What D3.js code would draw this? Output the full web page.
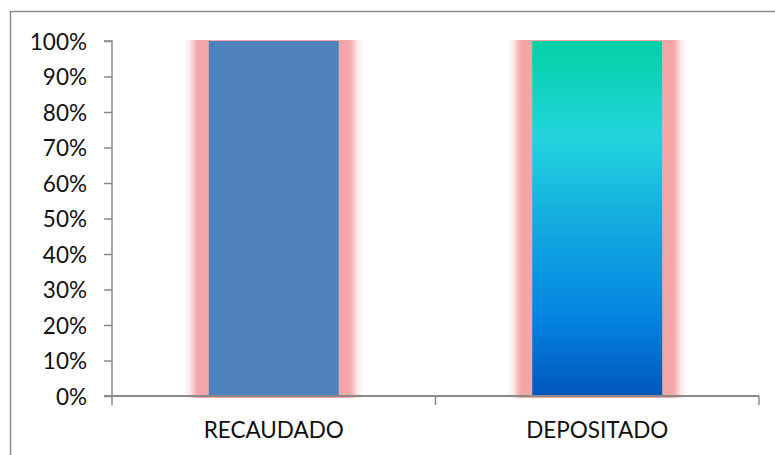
<!DOCTYPE html>
<html>
<head>
<meta charset="utf-8">
<script src="https://cdn.jsdelivr.net/npm/d3@7/dist/d3.min.js"></script>
<style>
  html, body { margin: 0; padding: 0; background: #fff; }
  svg { display: block; }
  text { font-family: Lato, "Open Sans", sans-serif; fill: #111; }
</style>
</head>
<body>
<svg id="chart" width="775" height="455"></svg>
<script>
// Chart data
const categories = ["RECAUDADO", "DEPOSITADO"];
const shareValues = [1.0, 1.0];
const yTicks = [0, 0.1, 0.2, 0.3, 0.4, 0.5, 0.6, 0.7, 0.8, 0.9, 1.0];

const svg = d3.select("#chart");
const W = 775, H = 455;
const plot = { left: 112, right: 759, top: 41, bottom: 396 };

// Outer frame
svg.append("rect")
  .attr("x", 10.5).attr("y", 11.5)
  .attr("width", W + 20).attr("height", H + 20)
  .attr("fill", "none").attr("stroke", "#8a8a8a").attr("stroke-width", 1.5);

const x = d3.scaleBand().domain(categories).range([plot.left, plot.right]).padding(0);
const y = d3.scaleLinear().domain([0, 1]).range([plot.bottom, plot.top]);
const barW = x.bandwidth() * 0.402;

const defs = svg.append("defs");
const glowPink = "#f4a6a6";

// Side glow gradients
function glowGradient(id, x1, x2) {
  const g = defs.append("linearGradient").attr("id", id).attr("x1", x1).attr("x2", x2).attr("y1", "0").attr("y2", "0");
  [["0", 0], ["0.25", 0.25], ["0.5", 0.9], ["0.6", 1], ["1", 1]]
    .forEach(([o, a]) => g.append("stop").attr("offset", o).attr("stop-color", glowPink).attr("stop-opacity", a));
}
glowGradient("glowL", "0", "1");
glowGradient("glowR", "1", "0");

// Vertical ocean gradient for the second bar
const ocean = defs.append("linearGradient").attr("id", "ocean").attr("x1", "0").attr("x2", "0").attr("y1", "0").attr("y2", "1");
[["0", "#03d1a4"], ["0.27", "#22d4de"], ["0.5", "#14addf"], ["0.78", "#0384e2"], ["1", "#0157bb"]]
  .forEach(([o, c]) => ocean.append("stop").attr("offset", o).attr("stop-color", c));

const fills = ["#4f81bd", "url(#ocean)"];
const glowW = 25;

const bars = svg.append("g");
categories.forEach((c, i) => {
  const bx = x(c) + (x.bandwidth() - barW) / 2;
  const top = y(shareValues[i]);
  const h = y(0) - top;
  // glow behind bar
  bars.append("rect").attr("x", bx - glowW).attr("y", top - 1).attr("width", glowW).attr("height", h + 3).attr("fill", "url(#glowL)");
  bars.append("rect").attr("x", bx + barW).attr("y", top - 1).attr("width", glowW).attr("height", h + 3).attr("fill", "url(#glowR)");
  bars.append("rect").attr("x", bx).attr("y", top - 1).attr("width", barW).attr("height", h + 3).attr("fill", glowPink);
  // bar
  bars.append("rect").attr("x", bx).attr("y", top).attr("width", barW).attr("height", h).attr("fill", fills[i]);
});

// Y axis
const yAxis = d3.axisLeft(y).tickValues(yTicks).tickFormat(d3.format(".0%")).tickSize(8).tickPadding(17);
const gy = svg.append("g").attr("transform", `translate(${plot.left},0)`).call(yAxis);
gy.select(".domain").attr("stroke", "#8a8a8a").attr("stroke-width", 1.5).attr("d", `M-8,${plot.top}H0V${plot.bottom}`);
gy.selectAll(".tick line").attr("stroke", "#8a8a8a").attr("stroke-width", 1.5);
gy.selectAll(".tick text").attr("font-size", 22.5).attr("font-family", "Lato, sans-serif").attr("fill", "#111").attr("dy", "0.36em");

// X axis
const gx = svg.append("g").attr("transform", `translate(0,${plot.bottom})`);
gx.append("line").attr("x1", plot.left - 8).attr("x2", plot.right).attr("y1", 0).attr("y2", 0)
  .attr("stroke", "#8a8a8a").attr("stroke-width", 2);
const xTickPos = [plot.left, plot.left + x.bandwidth(), plot.right];
gx.selectAll("line.xt").data(xTickPos).enter().append("line").attr("class", "xt")
  .attr("x1", d => d).attr("x2", d => d).attr("y1", 0).attr("y2", 9)
  .attr("stroke", "#8a8a8a").attr("stroke-width", 1.5);
gx.selectAll("text").data(categories).enter().append("text")
  .attr("x", d => x(d) + x.bandwidth() / 2).attr("y", 42)
  .attr("text-anchor", "middle").attr("font-size", 22.5)
  .text(d => d);
</script>
</body>
</html>
